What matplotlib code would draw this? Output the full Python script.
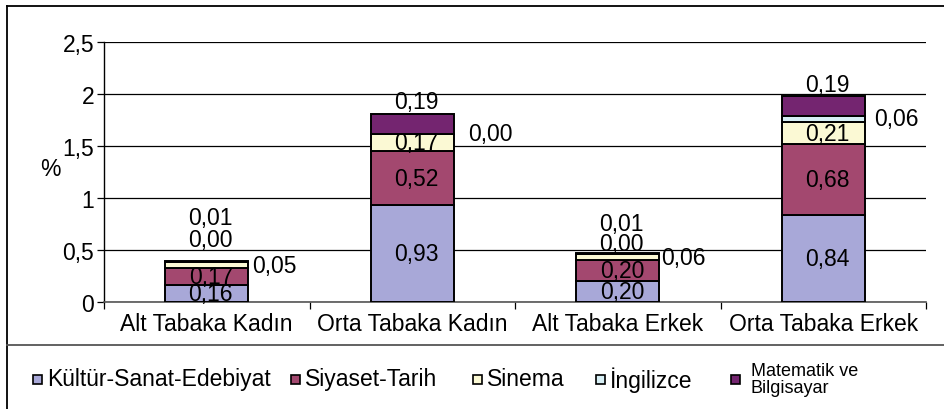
import matplotlib
matplotlib.use("Agg")
from matplotlib import pyplot as plt
from matplotlib.patches import Rectangle
from matplotlib.lines import Line2D
import numpy as np

plt.rcParams['font.family'] = ['Liberation Sans', 'DejaVu Sans']

categories = ["Alt Tabaka Kadın", "Orta Tabaka Kadın", "Alt Tabaka Erkek", "Orta Tabaka Erkek"]
series_names = ["Kültür-Sanat-Edebiyat", "Siyaset-Tarih", "Sinema", "İngilizce", "Matematik ve\nBilgisayar"]
kultur = [0.16, 0.93, 0.20, 0.84]
siyaset = [0.17, 0.52, 0.20, 0.68]
sinema = [0.05, 0.17, 0.06, 0.21]
ingilizce = [0.00, 0.00, 0.00, 0.06]
matematik = [0.01, 0.19, 0.01, 0.19]
yticks = [0, 0.5, 1, 1.5, 2, 2.5]
ytick_labels = ["0", "0,5", "1", "1,5", "2", "2,5"]

data = [kultur, siyaset, sinema, ingilizce, matematik]
colors = ['#a8a8d8', '#a3486f', '#fbf9d4', '#d7eff5', '#742570']
FS = 16.5

# where the value labels sit (Excel puts them all over the place)
# mode per series per category: c = centered, r = right of bar, a = above bar (pixel offset)
label_mode = [
    [('c', 0), ('c', 0), ('c', 0), ('c', 0)],
    [('c', 0), ('c', 0), ('c', 0), ('c', 0)],
    [('r', 4), ('c', 0), ('r', 2), ('c', 0)],
    [('a', 22), ('r', 14), ('a', 10), ('r', 9)],
    [('a', 44), ('a', 12), ('a', 30), ('a', 12)],
]

W, H = 944, 410
fig = plt.figure(figsize=(W / 100, H / 100), dpi=100)
ax = fig.add_axes([104 / W, (H - 303) / H, 822 / W, 260 / H])

x = np.arange(len(categories))
bw = 0.405
bottom = np.zeros(len(categories))
for vals, col in zip(data, colors):
    ax.bar(x, vals, bw, bottom=bottom, color=col, edgecolor='black', linewidth=1.4, zorder=3)
    bottom = bottom + np.array(vals)

ax.set_xlim(-0.5, 3.5)
ax.set_ylim(0, 2.5)

bottom = np.zeros(len(categories))
for si, vals in enumerate(data):
    for ci, v in enumerate(vals):
        txt = ("%.2f" % v).replace('.', ',')
        mode, off = label_mode[si][ci]
        if mode == 'c':
            ax.text(x[ci] + 0.02, bottom[ci] + v / 2, txt, ha='center', va='center',
                    fontsize=FS, zorder=4)
        elif mode == 'r':
            ax.annotate(txt, (x[ci] + bw / 2, bottom[ci] + v / 2), xytext=(off, 0),
                        textcoords='offset pixels', ha='left', va='center', fontsize=FS, zorder=4)
        else:
            total = sum(d[ci] for d in data)
            ax.annotate(txt, (x[ci] + 0.02, total), xytext=(0, off),
                        textcoords='offset pixels', ha='center', va='center', fontsize=FS, zorder=4)
    bottom = bottom + np.array(vals)

ax.set_yticks(yticks)
ax.set_yticklabels(ytick_labels, fontsize=FS)
ax.yaxis.grid(True, color='black', linewidth=0.9, zorder=0)
ax.set_xticks(x)
ax.set_xticklabels(categories, fontsize=FS)
ax.set_xticks([-0.5, 0.5, 1.5, 2.5, 3.5], minor=True)
ax.tick_params(axis='x', which='major', length=0, pad=7)
ax.tick_params(axis='x', which='minor', length=5, direction='out', width=0.9)
ax.tick_params(axis='y', length=5, direction='out', width=0.9, pad=2)
for s in ['top', 'right']:
    ax.spines[s].set_visible(False)
ax.spines['left'].set_linewidth(1.0)
ax.spines['bottom'].set_color('#555555')
ax.spines['bottom'].set_linewidth(1.2)
ax.set_ylabel('%', rotation=0, fontsize=FS, va='center', ha='center')
ax.yaxis.set_label_coords(-(104 - 50) / 822, (303 - 170) / 260)

# outer frame and legend separator
fig.add_artist(Line2D([6.5 / W, 1], [1 - 6.5 / H, 1 - 6.5 / H], color='black', lw=1.3))
fig.add_artist(Line2D([6.5 / W, 6.5 / W], [0, 1 - 6.5 / H], color='black', lw=1.3))
fig.add_artist(Line2D([6.5 / W, 1], [1 - 346 / H, 1 - 346 / H], color='#555555', lw=1.3))

# legend
leg_x = [37, 295, 477, 600, 735]
leg_y = 380
for name, col, lx in zip(series_names, colors, leg_x):
    fig.add_artist(Rectangle(((lx - 4.5) / W, 1 - (leg_y + 4.5) / H), 9 / W, 9 / H,
                             facecolor=col, edgecolor='black', linewidth=1.2))
    two = '\n' in name
    fig.text((lx + 10 + (6 if two else 0)) / W, 1 - leg_y / H, name, ha='left',
             va='center', fontsize=13 if two else FS, linespacing=1.0)

fig.savefig('out.png', dpi=100)
